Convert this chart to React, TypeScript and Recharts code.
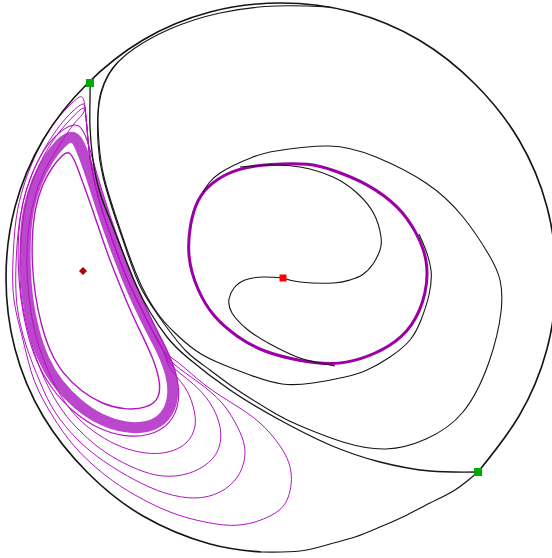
import React from 'react';
import { ComposedChart, Line, Scatter, XAxis, YAxis } from 'recharts';

// phase-plane coordinates, origin at the disk centre, y up
const boundary = [
  [197, -194], [238, -138], [266, -71], [275, 0], [266, 71], [238, 138], [194, 194], [138, 238],
  [71, 266], [0, 275], [-71, 266], [-138, 238], [-194, 194], [-238, 138], [-266, 71], [-275, 0],
  [-266, -71], [-238, -138], [-194, -194], [-138, -238], [-71, -266], [-20, -274],
];
const lowerSeparatrix = [
  [197, -194], [174, -212], [149, -225], [124, -238], [99, -249], [74, -259], [49, -266], [19, -273], [-20, -274],
];
const separatrix = [
  [-191, 195], [-191, 178], [-191, 151], [-188, 118], [-181, 85], [-170, 56], [-158, 25], [-145, -7],
  [-131, -34], [-114, -59], [-93, -80], [-51, -112], [-3, -141], [49, -167], [99, -184], [149, -193], [197, -194],
];
const outerOrbit = [
  [49, 271], [-5, 272], [-61, 265], [-111, 249], [-146, 230], [-163, 216], [-173, 203], [-180, 186],
  [-183, 166], [-183, 135], [-178, 101], [-165, 58], [-153, 23], [-139, -12], [-116, -47], [-94, -74],
  [-71, -92], [-48, -109], [-5, -136], [22, -149], [62, -164], [105, -171], [145, -161], [182, -134],
  [208, -84], [220, -34], [219, -2], [208, 23], [182, 61], [145, 95], [95, 121], [48, 132], [-5, 127],
  [-28, 121], [-61, 105], [-78, 86],
];
const nearOrbit = [
  [-163, 216], [-173, 202], [-180, 184], [-183, 163], [-182, 135], [-177, 101], [-164, 58], [-152, 23],
  [-139, -9], [-123, -36], [-106, -55], [-86, -72], [-64, -84], [-31, -97], [1, -106], [32, -105],
  [64, -99], [86, -92], [109, -79], [129, -62], [140, -42], [148, -17], [150, 8], [144, 30], [138, 44],
];
const innerOrbitA = [
  [2, 0], [19, -4], [52, -5], [69, -2], [81, 3], [92, 14], [99, 28], [100, 41], [93, 64], [76, 85],
  [52, 101], [19, 111], [-11, 113], [-41, 111],
];
const innerOrbitB = [
  [2, 0], [-18, 1], [-36, -2], [-47, -10], [-52, -21], [-49, -35], [-33, -52], [-11, -66], [16, -79],
  [34, -84], [54, -88],
];
const limitCycle = [
  [29, 115], [-11, 114], [-44, 110], [-71, 95], [-84, 78], [-91, 55], [-94, 21], [-84, -12], [-68, -39],
  [-44, -59], [-18, -74], [19, -83], [52, -87], [79, -82], [109, -69], [132, -49], [146, -15], [147, 18],
  [136, 45], [119, 71], [86, 95], [52, 108],
];

// left lobe: dense band and the outer turns of the spiral
const bandCore = [
  [-207, 145], [-199, 128], [-191, 106], [-183, 80], [-174, 53], [-164, 26], [-154, 0], [-143, -25],
  [-131, -50], [-118, -74], [-109, -97], [-107, -120], [-115, -140], [-133, -150], [-156, -150],
  [-181, -142], [-203, -127], [-223, -107], [-238, -82], [-248, -52], [-254, -20], [-256, 11], [-256, 41],
  [-253, 70], [-245, 96], [-234, 118], [-221, 135],
];
const bandOuter = [
  [-201, 158], [-193, 136], [-186, 110], [-178, 84], [-169, 56], [-159, 28], [-149, 2], [-138, -23],
  [-126, -49], [-113, -74], [-103, -99], [-101, -124], [-110, -146], [-131, -158], [-158, -159],
  [-185, -150], [-208, -134], [-229, -112], [-245, -84], [-255, -52], [-261, -18], [-263, 13], [-263, 44],
  [-259, 75], [-250, 103], [-238, 128], [-222, 147],
];
const bandInner = [
  [-211, 128], [-204, 112], [-197, 92], [-189, 70], [-181, 46], [-172, 20], [-162, -5], [-151, -32],
  [-139, -57], [-128, -80], [-121, -102], [-121, -120], [-133, -130], [-156, -132], [-179, -126],
  [-199, -114], [-218, -96], [-231, -74], [-240, -47], [-246, -17], [-249, 13], [-249, 43], [-246, 70],
  [-239, 93], [-229, 111], [-219, 123],
];
const lobeLeg = [
  [-196, 170], [-194, 150], [-192, 128], [-188, 103], [-182, 78], [-174, 53], [-165, 28], [-155, 2],
  [-143, -24], [-130, -50], [-118, -72],
];
const turn1 = [
  [-101, -86], [-76, -107], [-46, -127], [-21, -145], [-1, -168], [10, -194], [6, -222], [-11, -238],
  [-41, -247], [-76, -244], [-111, -234], [-146, -217], [-176, -197], [-206, -169], [-229, -137],
  [-247, -102], [-258, -62], [-267, -22], [-268, 18], [-265, 58], [-257, 93], [-243, 128], [-226, 156],
  [-209, 175], [-199, 181], [-196, 170],
];
const turn2 = [
  [-106, -87], [-83, -104], [-59, -125], [-43, -150], [-36, -174], [-43, -198], [-61, -214], [-86, -220],
  [-116, -215], [-146, -202], [-176, -184], [-203, -162], [-226, -134], [-241, -104], [-255, -67],
  [-264, -27], [-265, 13], [-262, 53], [-254, 90], [-240, 123], [-223, 150], [-208, 167], [-198, 174],
  [-196, 170],
];
const turn3 = [
  [-109, -88], [-89, -105], [-71, -125], [-61, -149], [-63, -172], [-77, -188], [-99, -197], [-125, -197],
  [-151, -188], [-176, -174], [-199, -155], [-219, -132], [-236, -102], [-248, -70], [-257, -35],
  [-261, 0], [-260, 38], [-255, 75], [-244, 108], [-229, 136], [-213, 156], [-201, 168], [-196, 170],
];
const turn4 = [
  [-111, -90], [-97, -108], [-88, -128], [-86, -148], [-95, -165], [-113, -174], [-135, -175], [-159, -169],
  [-182, -157], [-203, -140], [-220, -118], [-233, -92], [-244, -62], [-251, -27], [-254, 8], [-253, 43],
  [-247, 78], [-236, 108], [-222, 132], [-208, 153], [-199, 163], [-196, 170],
];

const saddles = [[-191, 195], [197, -194]];
const focus = [[2, 0]];
const centre = [[-198, 7]];

const pts = (a: number[][]) => a.map(([x, y]) => ({ x, y }));

const BLACK = '#151515';
const PURPLE = '#9a00a6';
const LOBE = '#b214c2';

const square = (fill: string, s: number) => (p: any) => (
  <rect x={p.cx - s / 2} y={p.cy - s / 2} width={s} height={s} fill={fill} />
);
const diamond = (fill: string, s: number) => (p: any) => (
  <polygon
    points={`${p.cx},${p.cy - s} ${p.cx + s},${p.cy} ${p.cx},${p.cy + s} ${p.cx - s},${p.cy}`}
    fill={fill}
  />
);

const curve = (key: string, data: number[][], stroke: string, width: number, type: any = 'natural', opacity = 1) => (
  <Line
    key={key}
    data={pts(data)}
    dataKey="y"
    type={type}
    stroke={stroke}
    strokeWidth={width}
    strokeOpacity={opacity}
    dot={false}
    activeDot={false}
    isAnimationActive={false}
    legendType="none"
  />
);

export default function App() {
  return (
    <div style={{ position: 'absolute', left: 0, top: 0, width: 552, height: 558, background: '#fff' }}>
      <ComposedChart width={552} height={558} margin={{ top: 0, right: 0, bottom: 0, left: 0 }}>
        <XAxis type="number" dataKey="x" domain={[-281, 271]} hide allowDataOverflow />
        <YAxis type="number" dataKey="y" domain={[-280, 278]} hide allowDataOverflow />
        {curve('band', bandCore, '#bb48cc', 11, 'basisClosed')}
        {curve('bandOuter', bandOuter, LOBE, 1.1, 'basisClosed')}
        {curve('bandInner', bandInner, LOBE, 1.4, 'basisClosed')}
        {curve('t1', [...lobeLeg, ...turn1], LOBE, 1)}
        {curve('t2', [...lobeLeg, ...turn2], LOBE, 1)}
        {curve('t3', [...lobeLeg, ...turn3], LOBE, 1)}
        {curve('t4', [...lobeLeg, ...turn4], LOBE, 1)}
        {curve('cycle', limitCycle, PURPLE, 3, 'basisClosed')}
        {curve('boundary', boundary, BLACK, 1.6)}
        {curve('lower', lowerSeparatrix, BLACK, 1.2)}
        {curve('sep', separatrix, BLACK, 1.3)}
        {curve('outer', outerOrbit, BLACK, 1.1)}
        {curve('near', nearOrbit, BLACK, 1.1)}
        {curve('innerA', innerOrbitA, BLACK, 1.1)}
        {curve('innerB', innerOrbitB, BLACK, 1.1)}
        <Scatter data={pts(centre)} isAnimationActive={false} shape={diamond('#b00000', 4)} />
        <Scatter data={pts(focus)} isAnimationActive={false} shape={square('#ff0000', 7)} />
        <Scatter data={pts(saddles)} isAnimationActive={false} shape={square('#00aa00', 8)} />
      </ComposedChart>
    </div>
  );
}
